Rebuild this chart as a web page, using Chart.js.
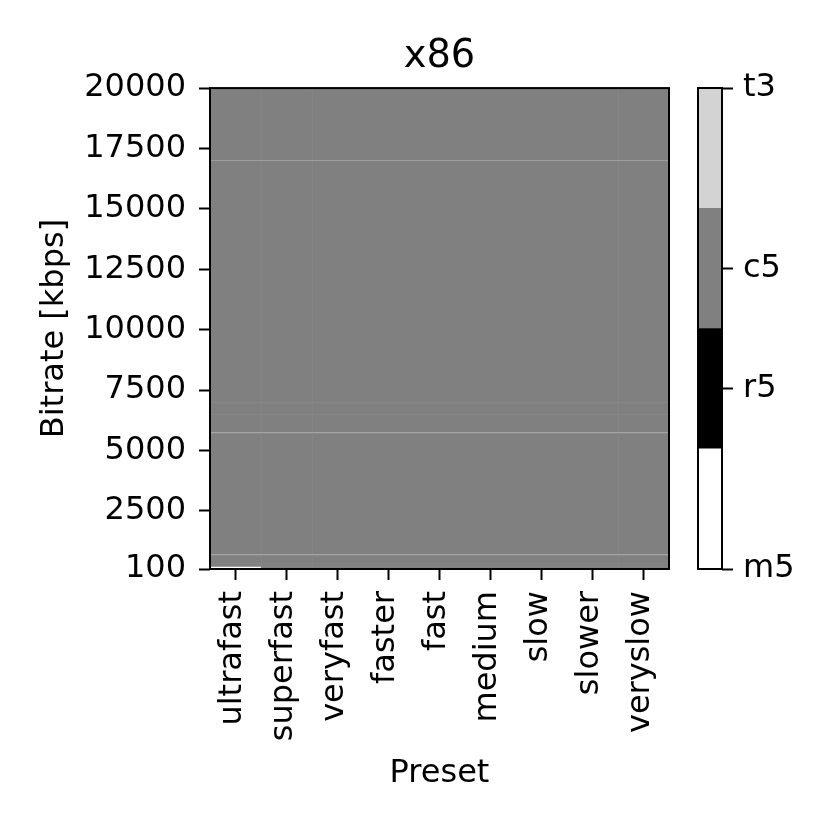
<!DOCTYPE html>
<html><head><meta charset="utf-8">
<script src="https://cdn.jsdelivr.net/npm/chart.js@4"></script>
<style>
html,body{margin:0;padding:0;background:#fff;}
#wrap{position:relative;width:830px;height:830px;overflow:hidden;}
#main{position:absolute;left:0;top:0;}
#cbar{position:absolute;left:680px;top:0;}
</style></head><body>
<div id="wrap"><canvas id="main" width="830" height="830"></canvas><canvas id="cbar" width="150" height="830"></canvas></div>
<script>
// ---- data ----
const presets = ['ultrafast','superfast','veryfast','faster','fast','medium','slow','slower','veryslow'];
const bitrateEdges = [100, 220, 350, 700, 5750, 6500, 7000, 17000, 20000];
const yTickValues = [100, 2500, 5000, 7500, 10000, 12500, 15000, 17500, 20000];
const codecClasses = ['m5', 'r5', 'c5', 't3'];
const classColors = ['#ffffff', '#000000', '#808080', '#d3d3d3'];
const cbarTickValues = [0, 1.5, 2.5, 4];
const cbarTickLabels = ['m5', 'r5', 'c5', 't3'];
// best codec per bitrate bin (one row per preset, bins low -> high)
const bestUltrafast = ['m5','c5','c5','c5','c5','c5','c5','c5'];
const bestSuperfast = ['c5','c5','c5','c5','c5','c5','c5','c5'];
const bestVeryfast  = ['c5','c5','c5','c5','c5','c5','c5','c5'];
const bestFaster    = ['c5','c5','c5','c5','c5','c5','c5','c5'];
const bestFast      = ['c5','c5','c5','c5','c5','c5','c5','c5'];
const bestMedium    = ['c5','c5','c5','c5','c5','c5','c5','c5'];
const bestSlow      = ['c5','c5','c5','c5','c5','c5','c5','c5'];
const bestSlower    = ['c5','c5','c5','c5','c5','c5','c5','c5'];
const bestVeryslow  = ['c5','c5','c5','c5','c5','c5','c5','c5'];
const bestCodec = [bestUltrafast, bestSuperfast, bestVeryfast, bestFaster, bestFast, bestMedium, bestSlow, bestSlower, bestVeryslow];

// ---- style ----
const FONT = 'DejaVu Sans';
const seamColor = '#868686';
const seamColumns = [1, 2, 8];
Chart.defaults.font.family = FONT;
Chart.defaults.color = '#000';

const framePlugin = {
  id: 'frame',
  afterDraw(chart) {
    const {ctx, chartArea: a} = chart;
    ctx.save();
    ctx.strokeStyle = '#000';
    ctx.lineWidth = 2;
    ctx.strokeRect(a.left, a.top, a.right - a.left, a.bottom - a.top);
    ctx.restore();
  }
};

const colorOf = c => classColors[codecClasses.indexOf(c)];

const datasets = [];
for (let b = 0; b < bitrateEdges.length - 1; b++) {
  datasets.push({
    data: presets.map(() => [bitrateEdges[b], bitrateEdges[b + 1]]),
    backgroundColor: presets.map((p, i) => colorOf(bestCodec[i][b])),
    borderColor: seamColor,
    borderSkipped: false,
    borderWidth: ctx => ({top: 1, bottom: 0, right: 0, left: seamColumns.includes(ctx.dataIndex) ? 1 : 0}),
    grouped: false,
    barPercentage: 1,
    categoryPercentage: 1
  });
}

new Chart(document.getElementById('main'), {
  type: 'bar',
  data: {labels: presets, datasets},
  options: {
    responsive: false,
    animation: false,
    devicePixelRatio: 1,
    layout: {padding: {left: 0, right: 161, top: 0, bottom: 0}},
    plugins: {
      legend: {display: false},
      tooltip: {enabled: false},
      title: {
        display: true, text: 'x86', fullSize: false, color: '#000',
        font: {family: FONT, size: 38.4, weight: 'normal'},
        padding: {top: 34, bottom: 8}
      }
    },
    scales: {
      x: {
        type: 'category',
        grid: {display: true, offset: false, drawOnChartArea: false, drawTicks: true, tickLength: 11, tickWidth: 2, tickColor: '#000', color: '#000'},
        border: {display: false},
        ticks: {autoSkip: false, minRotation: 90, maxRotation: 90, padding: 11, labelOffset: -3, color: '#000', font: {family: FONT, size: 32}},
        title: {display: true, text: 'Preset', color: '#000', font: {family: FONT, size: 32}, padding: {top: 0, bottom: 37}},
        afterFit: s => { s.height = 261; }
      },
      y: {
        type: 'linear', min: 100, max: 20000,
        grid: {display: true, drawOnChartArea: false, drawTicks: true, tickLength: 11, tickWidth: 2, tickColor: '#000', color: '#000'},
        border: {display: false},
        afterBuildTicks: s => { s.ticks = yTickValues.map(v => ({value: v})); },
        ticks: {padding: 13, color: '#000', font: {family: FONT, size: 32}, callback: v => String(v)},
        title: {display: true, text: 'Bitrate [kbps]', color: '#000', font: {family: FONT, size: 32}, padding: {top: 35, bottom: 0}},
        afterFit: s => { s.width = 210; }
      }
    }
  },
  plugins: [framePlugin]
});

// ---- colorbar ----
new Chart(document.getElementById('cbar'), {
  type: 'bar',
  data: {
    labels: [''],
    datasets: codecClasses.map((c, i) => ({
      data: [[i, i + 1]],
      backgroundColor: classColors[i],
      borderWidth: 0,
      grouped: false,
      barPercentage: 1,
      categoryPercentage: 1
    }))
  },
  options: {
    responsive: false,
    animation: false,
    devicePixelRatio: 1,
    layout: {padding: {left: 18, right: 0, top: 88, bottom: 261}},
    plugins: {legend: {display: false}, tooltip: {enabled: false}},
    scales: {
      x: {display: false},
      y: {
        type: 'linear', position: 'right', min: 0, max: 4,
        grid: {display: true, drawOnChartArea: false, drawTicks: true, tickLength: 11, tickWidth: 2, tickColor: '#000', color: '#000'},
        border: {display: false},
        afterBuildTicks: s => { s.ticks = cbarTickValues.map(v => ({value: v})); },
        ticks: {padding: 10, color: '#000', font: {family: FONT, size: 32},
          callback: v => cbarTickLabels[cbarTickValues.indexOf(v)]},
        afterFit: s => { s.width = 108; }
      }
    }
  },
  plugins: [framePlugin]
});
</script>
</body></html>
